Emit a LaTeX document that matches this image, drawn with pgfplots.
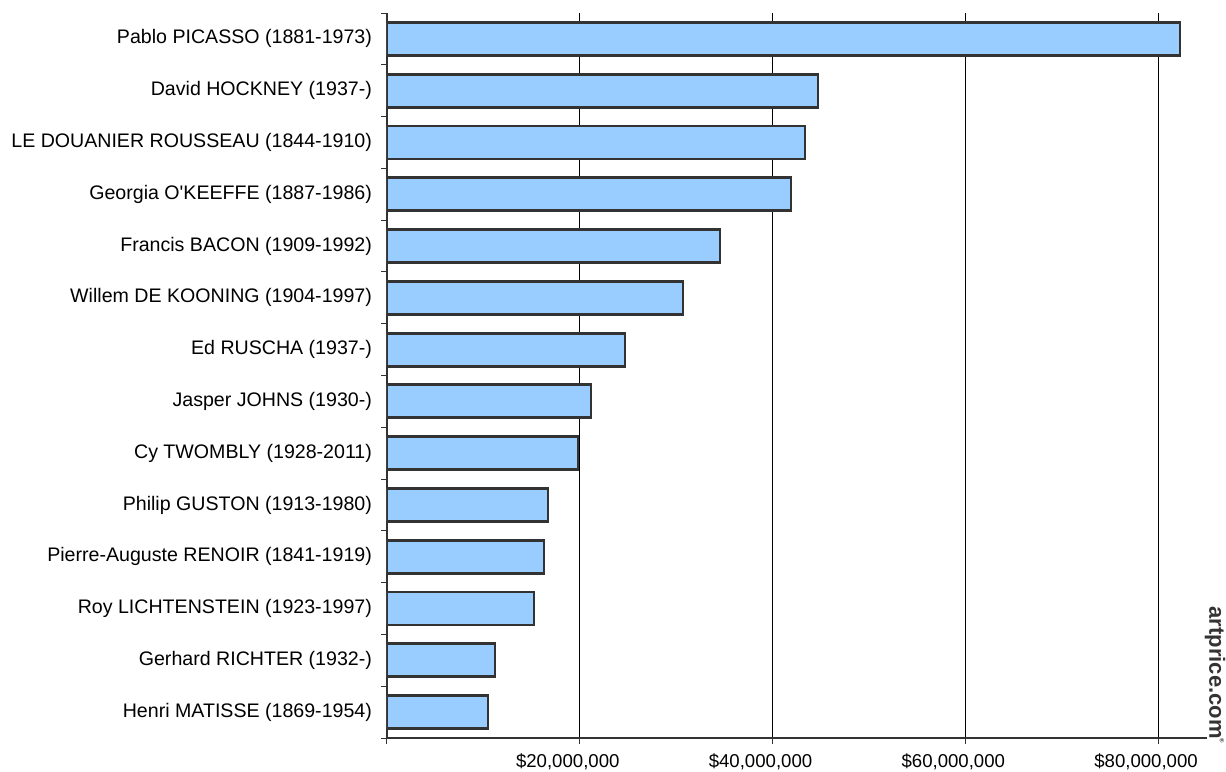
\documentclass[border=0pt]{standalone}
\usepackage{pgfplots}
\pgfplotsset{compat=1.18}
\usepackage{fontspec}
\setmainfont{Liberation Sans}
\definecolor{barfill}{HTML}{99CCFF}
\definecolor{barline}{HTML}{333333}

\begin{document}
\begin{tikzpicture}
\begin{axis}[
    scale only axis,
    width=410pt, height=362.5pt,
    xbar, bar width=16.5pt,
    xmin=0, xmax=85.08e6,
    ymin=-0.5, ymax=13.5,
    y dir=reverse,
    axis x line*=bottom, axis y line*=left,
    axis line style={barline, line width=0.6pt},
    ytick={0,...,13},
    yticklabels={Pablo PICASSO (1881-1973), David HOCKNEY (1937-),
        LE DOUANIER ROUSSEAU (1844-1910), Georgia O\textquotesingle KEEFFE (1887-1986),
        Francis BACON (1909-1992), Willem DE KOONING (1904-1997),
        Ed RUSCHA (1937-), Jasper JOHNS (1930-), Cy TWOMBLY (1928-2011),
        Philip GUSTON (1913-1980), Pierre-Auguste RENOIR (1841-1919),
        Roy LICHTENSTEIN (1923-1997), Gerhard RICHTER (1932-),
        Henri MATISSE (1869-1954)},
    minor ytick={-0.5,0.5,...,13.5},
    xtick={0,20e6,40e6,60e6,80e6},
    xticklabels={{},{\$20,000,000},{\$40,000,000},{\$60,000,000},{\$80,000,000}},
    minor xtick={0,20e6,40e6,60e6,80e6},
    major tick length=0pt, minor tick length=2.8pt,
    tick align=outside,
    tick style={barline, line width=0.5pt},
    xmajorgrids=true,
    major grid style={black, line width=0.5pt},
    yticklabel style={font=\fontsize{9.8}{11}\selectfont, xshift=-4pt},
    xticklabel style={font=\fontsize{9.3}{10}\selectfont, xshift=-6pt, yshift=-4.5pt},
    /pgf/number format/assume math mode=true,
    scaled x ticks=false,
]
\addplot[fill=barfill, draw=barline, line width=1.4pt] coordinates {
    (82.28e6,0) (44.72e6,1) (43.37e6,2) (41.92e6,3) (34.55e6,4)
    (30.71e6,5) (24.70e6,6) (21.17e6,7) (19.82e6,8) (16.71e6,9)
    (16.29e6,10) (15.25e6,11) (11.21e6,12) (10.48e6,13)
};
\end{axis}
\node[rotate=-90, font=\bfseries\fontsize{11}{12}\selectfont, text=barline, inner sep=0pt]
    at (414pt,31.5pt) {artprice.com\raisebox{0.9ex}{\fontsize{3}{3}\selectfont\textregistered}};
\pgfresetboundingbox
\path (-193.5pt,-16.5pt) rectangle (419.5pt,369pt);
\end{tikzpicture}
\end{document}
